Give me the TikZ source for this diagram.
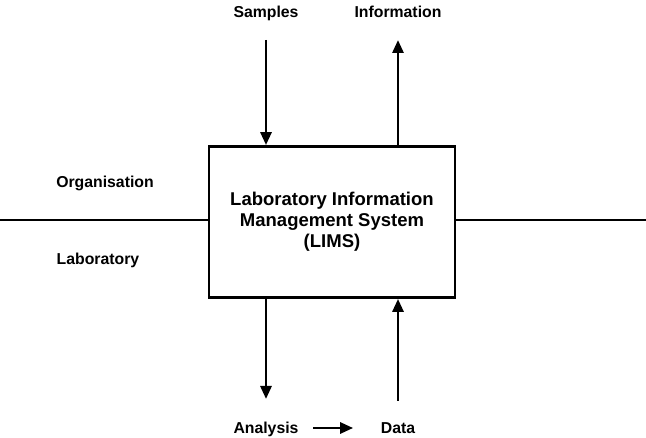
\documentclass[tikz,border=0pt]{standalone}
\usepackage{fontspec}
\setmainfont{Liberation Sans}
\usetikzlibrary{arrows.meta,positioning}

\begin{document}
\begin{tikzpicture}[x=1pt, y=-1pt, line width=2.8pt,
                    main node/.style={draw,rectangle,minimum width=246pt,minimum height=151pt,align=center,font=\fontsize{18.5}{21}\selectfont\bfseries},
                    label node/.style={font=\fontsize{15.8}{18}\selectfont\bfseries,text height=12pt,text depth=0.5pt},
                    flow/.style={-{Triangle[length=13pt,width=11pt]}}]
	\useasboundingbox (0,0) rectangle (646,438);

	\node[main node] (lims) at (332,222) {Laboratory Information\\Management System\\(LIMS)};

	\node[label node] (samples) at (266,12) {Samples};
	\node[label node] (info) at (398,12) {Information};
	\node[label node] (org) at (105,182) {Organisation};
	\node[label node] (lab) at (98,259) {Laboratory};
	\node[label node] (analysis) at (266,428) {Analysis};
	\node[label node] (data) at (398,428) {Data};

	\coordinate (left) at (0,220);
	\coordinate (right) at (646,220);
	\coordinate (sin) at (266,40);
	\coordinate (iout) at (398,40);
	\coordinate (aout) at (266,399);
	\coordinate (din) at (398,401);

	\draw (left) -- (left -| lims.west);
	\draw (right -| lims.east) -- (right);
	\draw[flow] (sin) -- (lims.north -| sin);
	\draw[flow] (lims.north -| iout) -- (iout);
	\draw[flow] (lims.south -| aout) -- (aout);
	\draw[flow] (din) -- (lims.south -| din);
	\draw[flow] ([xshift=10pt]analysis.east) -- ([xshift=-23pt]data.west);
\end{tikzpicture}
\end{document}
